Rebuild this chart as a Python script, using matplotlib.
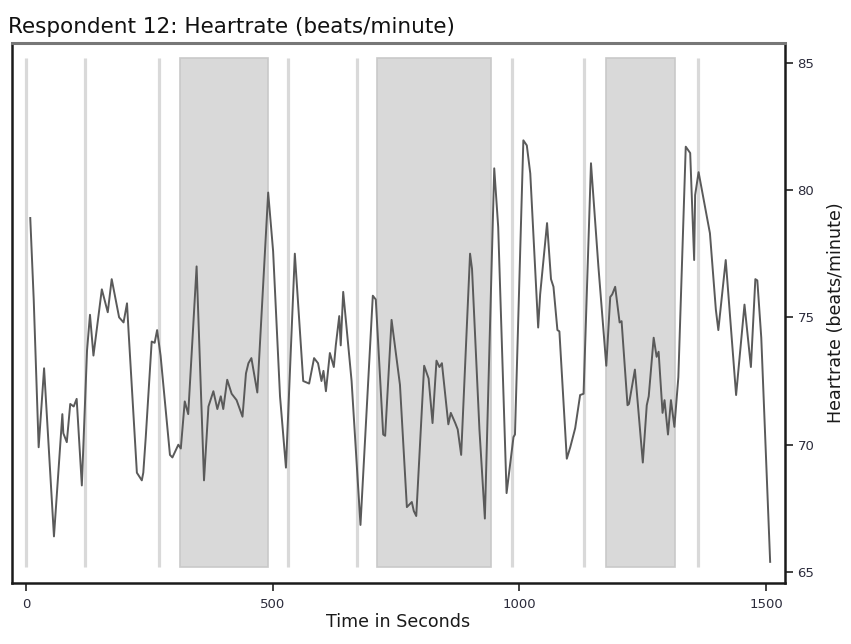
import matplotlib.pyplot as plt

# Heart rate trace
seconds = [9, 16, 26, 37, 57, 74, 76, 83, 90, 97, 103, 113.5, 124, 130, 137, 154, 166, 174,
           189, 198, 205, 208, 225, 235, 238, 243, 255, 261, 266, 273, 292, 297, 309, 314,
           322, 329, 346, 361, 370, 380, 388, 395, 400, 408, 417, 427, 439, 446, 451, 457,
           469, 491, 501, 515, 527, 545, 562, 574, 584, 592, 599, 603, 608, 616, 624, 628,
           635, 638, 643, 660, 678, 703, 709, 724, 728, 741, 758, 772, 782, 786, 791, 807,
           816, 824, 832, 838, 843, 856, 861, 870, 875, 882, 900, 904, 919, 930, 949, 957,
           974, 988, 991, 1008, 1015, 1022, 1038, 1042, 1056, 1064, 1069, 1077, 1081, 1096,
           1103, 1113, 1123, 1130, 1145, 1160, 1176, 1184, 1188, 1194, 1203, 1207, 1219,
           1222, 1234, 1250, 1258, 1262, 1272, 1278, 1282, 1290, 1294, 1301, 1307, 1314,
           1322, 1337, 1346, 1354, 1356, 1363, 1386, 1398, 1403, 1418, 1439, 1456, 1469,
           1478, 1482, 1490, 1508]
heartrate = [78.9, 75.7, 69.9, 73.0, 66.4, 71.2, 70.45, 70.1, 71.6, 71.5, 71.8, 68.4, 73.7, 75.1,
             73.5, 76.1, 75.2, 76.5, 75.0, 74.8, 75.55, 74.5, 68.9, 68.6, 68.9, 70.3, 74.05,
             74.0, 74.5, 73.5, 69.6, 69.5, 70.0, 69.85, 71.7, 71.2, 77.0, 68.6, 71.5, 72.1,
             71.4, 71.9, 71.4, 72.55, 72.0, 71.75, 71.1, 72.8, 73.2, 73.4, 72.05, 79.9, 77.6,
             71.9, 69.1, 77.5, 72.5, 72.4, 73.4, 73.2, 72.5, 72.9, 72.1, 73.6, 73.05, 73.9,
             75.05, 73.9, 76.0, 72.5, 66.85, 75.85, 75.7, 70.4, 70.35, 74.9, 72.35, 67.55,
             67.75, 67.4, 67.2, 73.1, 72.6, 70.85, 73.3, 73.05, 73.2, 70.8, 71.25, 70.85,
             70.6, 69.6, 77.5, 76.9, 70.6, 67.1, 80.85, 78.55, 68.1, 70.3, 70.4, 81.95,
             81.75, 80.65, 74.6, 75.9, 78.7, 76.5, 76.2, 74.5, 74.45, 69.45, 69.9, 70.65,
             71.95, 72.0, 81.05, 77.0, 73.1, 75.8, 75.9, 76.2, 74.8, 74.85, 71.55, 71.6,
             72.95, 69.3, 71.55, 71.9, 74.2, 73.45, 73.65, 71.25, 71.75, 70.4, 71.75, 70.7,
             72.65, 81.7, 81.45, 77.25, 79.8, 80.7, 78.3, 75.3, 74.5, 77.25, 71.95, 75.5,
             73.05, 76.5, 76.45, 74.2, 65.4]

# event markers (vertical lines) and shaded task periods
event_times = [0, 120, 270, 532, 671, 985, 1131, 1362]
period_start = [312, 711, 1176]
period_end = [490, 943, 1316]

band_low, band_high = 65.2, 85.2

fig = plt.figure(figsize=(8.51, 6.44), dpi=100)
ax = fig.add_axes([0.0141, 0.0947, 0.9083, 0.8385])

shade = '#d9d9d9'
for s, e in zip(period_start, period_end):
    ax.bar(s, band_high - band_low, width=e - s, bottom=band_low, align='edge',
           color=shade, edgecolor='#c9c9c9', linewidth=1.2, zorder=1)
ax.vlines(event_times, band_low, band_high, color=shade, linewidth=2.3, zorder=1)

ax.plot(seconds, heartrate, color='#5a5a5a', linewidth=1.4, zorder=3)

ax.set_xlim(-28, 1538)
ax.set_ylim(64.57, 85.77)
ax.set_xticks([0, 500, 1000, 1500])
ax.set_yticks([65, 70, 75, 80, 85])

ax.yaxis.tick_right()
ax.yaxis.set_label_position('right')
ax.tick_params(axis='both', direction='out', length=6, width=1.2,
               labelsize=9.5, labelcolor='#2b2b3b', color='#222222')
ax.tick_params(axis='x', pad=5)
ax.tick_params(axis='y', pad=3)

for side in ['left', 'bottom', 'right']:
    ax.spines[side].set_color('#1a1a1a')
    ax.spines[side].set_linewidth(1.8)
ax.spines['top'].set_color('#777777')
ax.spines['top'].set_linewidth(2.2)

ax.set_xlabel('Time in Seconds', fontsize=12.6, color='#1a1a1a', labelpad=1)
ax.set_ylabel('Heartrate (beats/minute)', fontsize=12.6, color='#1a1a1a', labelpad=9)

fig.text(0.009, 0.948, 'Respondent 12: Heartrate (beats/minute)', fontsize=15.5,
         color='#111111', ha='left', va='baseline')

fig.savefig('out.png', dpi=100)
